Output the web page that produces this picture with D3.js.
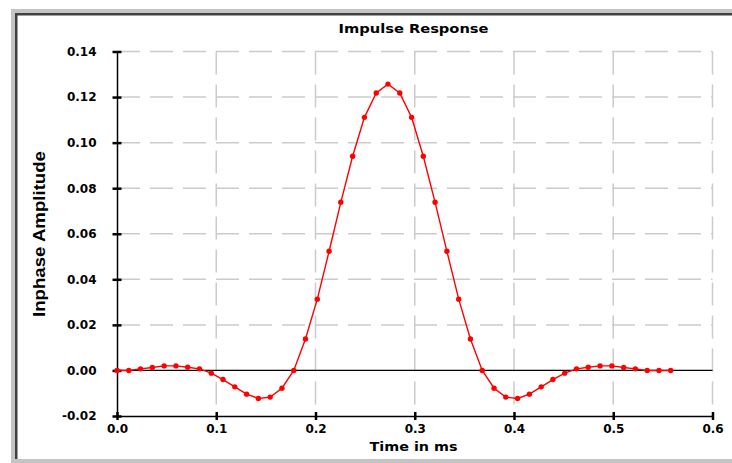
<!DOCTYPE html>
<html>
<head>
<meta charset="utf-8">
<script src="https://cdn.jsdelivr.net/npm/d3@7"></script>
<style>
  html, body { margin: 0; padding: 0; background: #ffffff; }
  svg { display: block; }
</style>
</head>
<body>
<svg id="chart" width="732" height="463"></svg>
<script>
// ---- data ----
const times = [0.0000, 0.0119, 0.0237, 0.0356, 0.0475, 0.0594, 0.0712, 0.0831,
  0.0950, 0.1068, 0.1187, 0.1306, 0.1424, 0.1543, 0.1662, 0.1781, 0.1899, 0.2018,
  0.2137, 0.2255, 0.2374, 0.2493, 0.2612, 0.2730, 0.2849, 0.2968, 0.3086, 0.3205,
  0.3324, 0.3443, 0.3561, 0.3680, 0.3799, 0.3917, 0.4036, 0.4155, 0.4274, 0.4392,
  0.4511, 0.4630, 0.4748, 0.4867, 0.4986, 0.5105, 0.5223, 0.5342, 0.5461, 0.5579];
const amplitude = [0.0000, 0.0000, 0.0007, 0.0013, 0.0020, 0.0020, 0.0014, 0.0007,
  -0.0012, -0.0040, -0.0072, -0.0104, -0.0123, -0.0117, -0.0078, 0.0000, 0.0138, 0.0313,
  0.0523, 0.0738, 0.0940, 0.1111, 0.1218, 0.1257, 0.1218, 0.1111, 0.0940, 0.0738,
  0.0523, 0.0313, 0.0138, 0.0000, -0.0078, -0.0117, -0.0123, -0.0104, -0.0072, -0.0040,
  -0.0012, 0.0007, 0.0014, 0.0020, 0.0020, 0.0013, 0.0007, 0.0000, 0.0000, 0.0000];
const xTicks = [0.0, 0.1, 0.2, 0.3, 0.4, 0.5, 0.6];
const yTicks = [-0.02, 0.00, 0.02, 0.04, 0.06, 0.08, 0.10, 0.12, 0.14];
const titleText = "Impulse Response";
const xTitle = "Time in ms";
const yTitle = "Inphase Amplitude";

// ---- layout ----
const svg = d3.select("#chart");
const L = 117, R = 712.5, T = 51.5, B = 416;
const x = d3.scaleLinear().domain([0, 0.6]).range([L, R]);
const y = d3.scaleLinear().domain([-0.02, 0.14]).range([B, T]);
const FONT = "'DejaVu Sans', Verdana, sans-serif";

// frame (sunken panel look)
svg.append("rect").attr("x", 11).attr("y", 9).attr("width", 721).attr("height", 454).attr("fill", "#c4c4c4");
svg.append("rect").attr("x", 15).attr("y", 13).attr("width", 717).attr("height", 446).attr("fill", "#404040");
svg.append("rect").attr("x", 17.5).attr("y", 15.5).attr("width", 714.5).attr("height", 443.5).attr("fill", "#ffffff");
svg.append("rect").attr("x", 15).attr("y", 459).attr("width", 717).attr("height", 4).attr("fill", "#c4c4c4");

// grid
const grid = svg.append("g").attr("stroke", "#cbcbcb").attr("stroke-width", 1.5)
  .attr("stroke-dasharray", "23,10").attr("fill", "none");
grid.selectAll("line.v").data(xTicks.filter(d => d > 0)).enter().append("line")
  .attr("x1", d => x(d)).attr("x2", d => x(d)).attr("y1", T).attr("y2", B);
grid.selectAll("line.h").data(yTicks.filter(d => d > 0.001)).enter().append("line")
  .attr("x1", L).attr("x2", R).attr("y1", d => y(d)).attr("y2", d => y(d));

// zero line
svg.append("line").attr("x1", L).attr("x2", R).attr("y1", y(0)).attr("y2", y(0))
  .attr("stroke", "#000").attr("stroke-width", 1.2);

// axes
const xAxis = d3.axisBottom(x).tickValues(xTicks).tickFormat(d3.format(".1f"))
  .tickSizeInner(4).tickSizeOuter(0).tickPadding(4);
const gx = svg.append("g").attr("transform", `translate(0,${B})`).call(xAxis);
gx.select(".domain").attr("stroke", "#000").attr("stroke-width", 1.5);
gx.selectAll(".tick line").attr("stroke", "#000").attr("stroke-width", 2.5).attr("y1", -4);
gx.selectAll(".tick text").attr("font-family", FONT).attr("font-weight", "bold")
  .attr("font-size", "12px").attr("fill", "#000");

const yAxis = d3.axisLeft(y).tickValues(yTicks).tickFormat(d3.format(".2f"))
  .tickSizeInner(4.5).tickSizeOuter(0).tickPadding(16);
const gy = svg.append("g").attr("transform", `translate(${L},0)`).call(yAxis);
gy.select(".domain").attr("stroke", "#000").attr("stroke-width", 1.5);
gy.selectAll(".tick line").attr("stroke", "#000").attr("stroke-width", 2.5).attr("x2", 4.5).attr("x1", -4.5);
gy.selectAll(".tick text").attr("font-family", FONT).attr("font-weight", "bold")
  .attr("font-size", "12px").attr("fill", "#000").text(d => d3.format(".2f")(d).replace("−", "-"));

// data line
const line = d3.line().x((d, i) => x(times[i])).y(d => y(d));
svg.append("path").datum(amplitude).attr("d", line)
  .attr("fill", "none").attr("stroke", "#ff0000").attr("stroke-width", 1.4);
svg.selectAll("circle.pt").data(amplitude).enter().append("circle")
  .attr("class", "pt").attr("cx", (d, i) => x(times[i])).attr("cy", d => y(d))
  .attr("r", 2.7).attr("fill", "#ff0000");

// titles
svg.append("text").attr("x", 413.5).attr("y", 33).attr("text-anchor", "middle")
  .attr("font-family", FONT).attr("font-weight", "bold").attr("font-size", "13px")
  .attr("textLength", 150).attr("lengthAdjust", "spacingAndGlyphs").text(titleText);
svg.append("text").attr("x", 413.5).attr("y", 451).attr("text-anchor", "middle")
  .attr("font-family", FONT).attr("font-weight", "bold").attr("font-size", "13px")
  .attr("textLength", 88).attr("lengthAdjust", "spacingAndGlyphs").text(xTitle);
svg.append("text").attr("transform", "translate(45,234) rotate(-90)").attr("text-anchor", "middle")
  .attr("font-family", "'Liberation Sans Narrow', 'Liberation Sans', Arial, sans-serif")
  .attr("font-weight", "bold").attr("font-size", "17px")
  .attr("textLength", 166).attr("lengthAdjust", "spacingAndGlyphs").text(yTitle);
</script>
</body>
</html>
